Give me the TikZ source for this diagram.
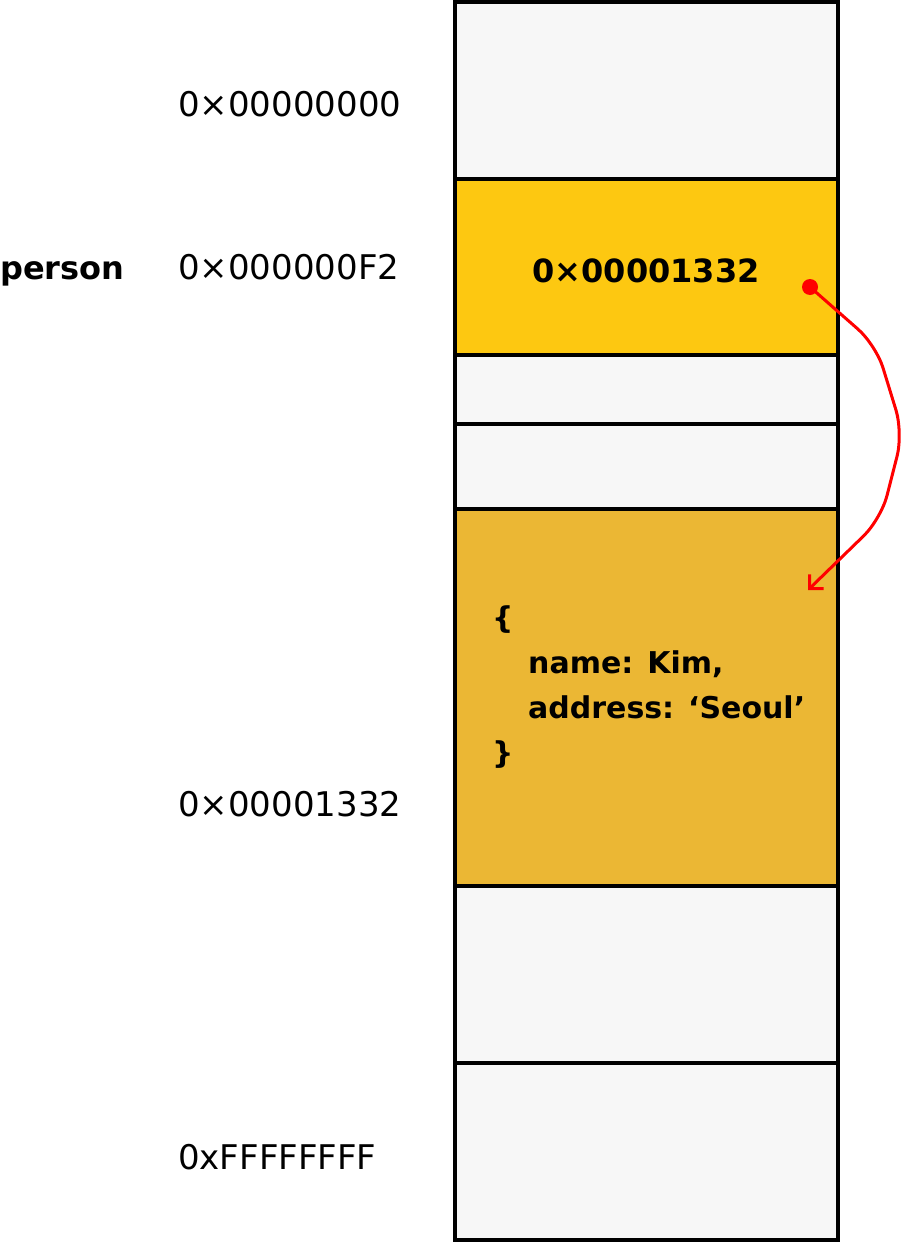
\documentclass[tikz,border=0pt]{standalone}
\usepackage{fontspec}
\setmainfont{DejaVu Sans}
\usetikzlibrary{arrows.meta}
\definecolor{cellgray}{HTML}{F7F7F7}
\definecolor{cellyellow}{HTML}{FDC811}
\definecolor{cellgold}{HTML}{EBB734}
\definecolor{ptrred}{HTML}{FF0000}
\begin{document}
\begin{tikzpicture}[x=1pt,y=-1pt,
  cell/.style={draw=black,line width=3.5pt},
  addr/.style={anchor=base west,inner sep=0pt,font=\fontsize{34}{40}\selectfont},
  bold/.style={anchor=base west,inner sep=0pt,font=\fontsize{32}{40}\selectfont\bfseries},
  obj/.style={anchor=base west,inner sep=0pt,font=\fontsize{30}{36}\selectfont\bfseries}]
\useasboundingbox (0,0) rectangle (906,1242);
% cells
\draw[cell,fill=cellgray] (455,2) rectangle (838,179);
\draw[cell,fill=cellyellow] (455,179) rectangle (838,355);
\draw[cell,fill=cellgray] (455,355) rectangle (838,424);
\draw[cell,fill=cellgray] (455,424) rectangle (838,509);
\draw[cell,fill=cellgold] (455,509) rectangle (838,886);
\draw[cell,fill=cellgray] (455,886) rectangle (838,1063);
\draw[cell,fill=cellgray] (455,1063) rectangle (838,1240);
% labels
\node[addr] (a0) at (178,116) {0×00000000};
\node[bold] (pname) at (0,279) {person};
\node[addr] (a1) at (178,279) {0×000000F2};
\node[bold,anchor=base] (pval) at (646,282) {0×00001332};
\node[addr] (a2) at (178,816) {0×00001332};
\node[addr] (a3) at (178,1169) {0xFFFFFFFF};
% object
\node[obj] (o1) at (492,628) {\{};
\node[obj] (o2) at (528,673) {name: Kim,};
\node[obj] (o3) at (528,718) {address: ‘Seoul’};
\node[obj] (o4) at (492,763) {\}};
% pointer
\coordinate (src) at (810,287);
\coordinate (dst) at (808,590);
\fill[ptrred] (src) circle (8);
\draw[ptrred,line width=3pt,rounded corners=24pt,-{Straight Barb[length=10pt,width=20pt]}]
  (src) -- (876,345) -- (903,433) -- (881,519) -- (dst);
\end{tikzpicture}
\end{document}
